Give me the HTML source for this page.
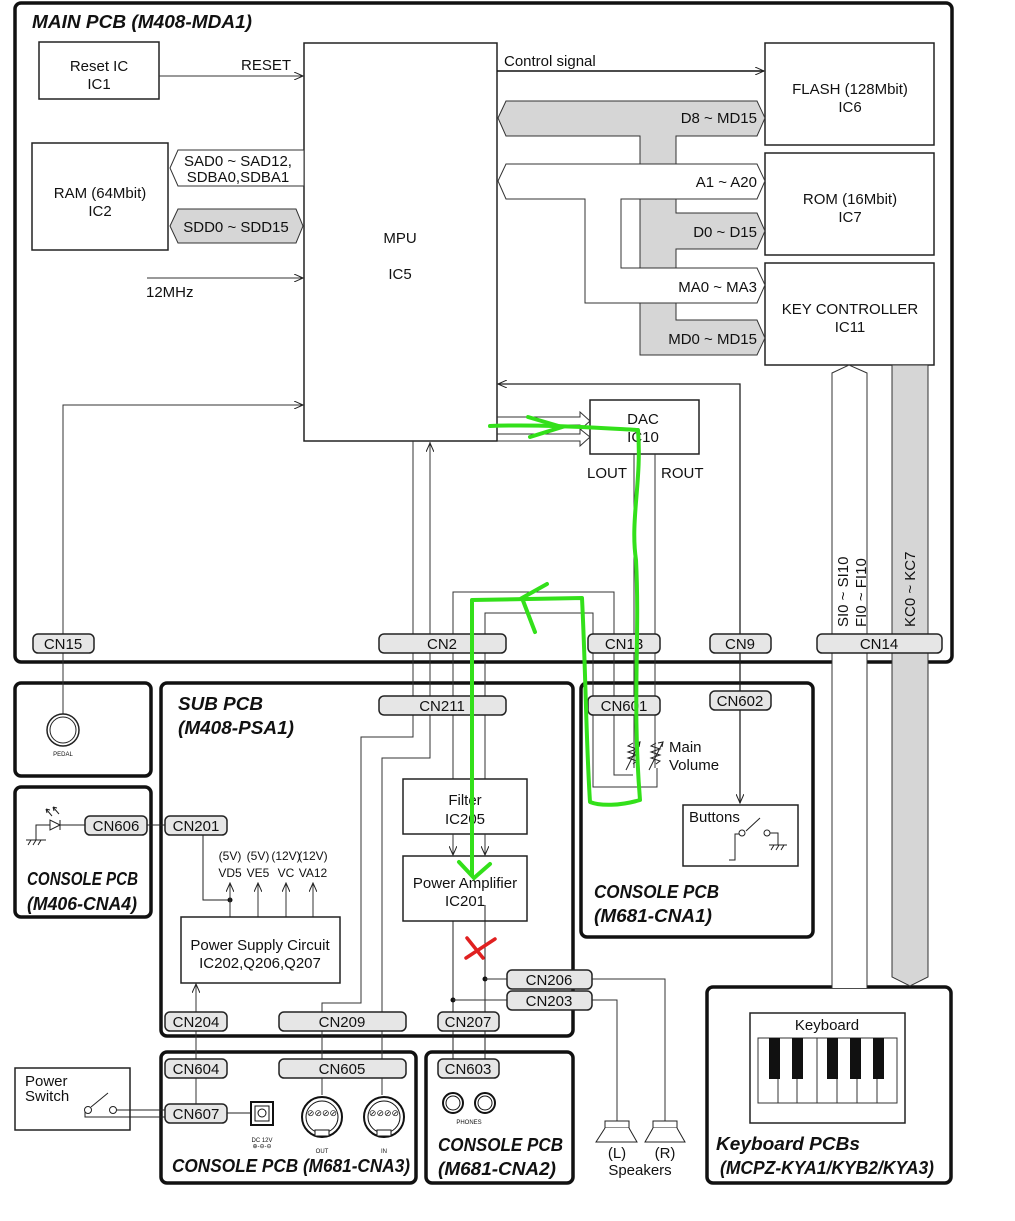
<!DOCTYPE html>
<html><head><meta charset="utf-8"><style>
body{margin:0;background:#fff}
svg{display:block}
text{font-family:"Liberation Sans",sans-serif;fill:#111}
.t{font-size:15px}
.b{font-size:18px;font-weight:bold;font-style:italic}
.c{text-anchor:middle}
.r{text-anchor:end}
.cn{fill:#e6e6e6;stroke:#222;stroke-width:1.5}
.box{fill:#fff;stroke:#222;stroke-width:1.5}
.pcb{fill:none;stroke:#111;stroke-width:3.5}
.ln{stroke:#333;stroke-width:1;fill:none}
.g{fill:#d6d6d6;stroke:#333;stroke-width:1}
.w{fill:#fff;stroke:#333;stroke-width:1}
</style></head><body>
<svg width="1015" height="1221" viewBox="0 0 1015 1221" xmlns="http://www.w3.org/2000/svg">
<defs>
<marker id="a" markerWidth="10" markerHeight="8" refX="9" refY="4" orient="auto" markerUnits="userSpaceOnUse"><path d="M0,0 L9,4 L0,8" fill="none" stroke="#222" stroke-width="1"/></marker>
</defs>

<!-- PCB outlines -->
<rect class="pcb" x="15" y="3" width="937" height="659" rx="6"/>
<text class="b" x="32" y="28" textLength="220" lengthAdjust="spacingAndGlyphs">MAIN PCB (M408-MDA1)</text>
<rect class="pcb" x="161" y="683" width="412" height="353" rx="6"/>
<text class="b" x="178" y="710" textLength="85" lengthAdjust="spacingAndGlyphs">SUB PCB</text>
<text class="b" x="178" y="734" textLength="116" lengthAdjust="spacingAndGlyphs">(M408-PSA1)</text>
<rect class="pcb" x="15" y="683" width="136" height="93" rx="6"/>
<rect class="pcb" x="15" y="787" width="136" height="130" rx="6"/>
<text class="b" x="27" y="885" textLength="111" lengthAdjust="spacingAndGlyphs">CONSOLE PCB</text>
<text class="b" x="27" y="910" textLength="110" lengthAdjust="spacingAndGlyphs">(M406-CNA4)</text>
<rect class="pcb" x="581" y="683" width="232" height="254" rx="6"/>
<text class="b" x="594" y="898" textLength="125" lengthAdjust="spacingAndGlyphs">CONSOLE PCB</text>
<text class="b" x="594" y="922" textLength="118" lengthAdjust="spacingAndGlyphs">(M681-CNA1)</text>
<rect class="pcb" x="161" y="1052" width="255" height="131" rx="6"/>
<text class="b" x="172" y="1172" textLength="238" lengthAdjust="spacingAndGlyphs">CONSOLE PCB (M681-CNA3)</text>
<rect class="pcb" x="426" y="1052" width="147" height="131" rx="6"/>
<text class="b" x="438" y="1151" textLength="125" lengthAdjust="spacingAndGlyphs">CONSOLE PCB</text>
<text class="b" x="438" y="1175" textLength="118" lengthAdjust="spacingAndGlyphs">(M681-CNA2)</text>
<rect class="pcb" x="707" y="987" width="244" height="196" rx="6"/>
<text class="b" x="716" y="1150" textLength="144" lengthAdjust="spacingAndGlyphs">Keyboard PCBs</text>
<text class="b" x="720" y="1174" textLength="214" lengthAdjust="spacingAndGlyphs">(MCPZ-KYA1/KYB2/KYA3)</text>

<!-- Main PCB contents -->
<rect class="box" x="39" y="42" width="120" height="57"/>
<text class="t c" x="99" y="71">Reset IC</text><text class="t c" x="99" y="89">IC1</text>
<line class="ln" x1="159" y1="76" x2="303" y2="76" marker-end="url(#a)"/>
<text class="t" x="241" y="70">RESET</text>

<rect class="box" x="304" y="43" width="193" height="398"/>
<text class="t c" x="400" y="243">MPU</text><text class="t c" x="400" y="279">IC5</text>

<rect class="box" x="32" y="143" width="136" height="107"/>
<text class="t c" x="100" y="198">RAM (64Mbit)</text><text class="t c" x="100" y="216">IC2</text>
<path class="w" d="M170,168 L178,150 L304,150 L304,186 L178,186 Z"/>
<text class="t c" x="238" y="166">SAD0 ~ SAD12,</text><text class="t c" x="238" y="182">SDBA0,SDBA1</text>
<path class="g" d="M170,226 L178,209 L296,209 L303,226 L296,243 L178,243 Z"/>
<text class="t c" x="236" y="232">SDD0 ~ SDD15</text>
<line class="ln" x1="147" y1="278" x2="303" y2="278" marker-end="url(#a)"/>
<text class="t" x="146" y="297">12MHz</text>

<path class="ln" d="M63,714 V405 H303" marker-end="url(#a)"/>

<line class="ln" x1="497" y1="71" x2="764" y2="71" marker-end="url(#a)" style="stroke:#111;stroke-width:1.5"/>
<text class="t" x="504" y="66">Control signal</text>

<rect class="box" x="765" y="43" width="169" height="102"/>
<text class="t c" x="850" y="94">FLASH (128Mbit)</text><text class="t c" x="850" y="112">IC6</text>
<rect class="box" x="765" y="153" width="169" height="102"/>
<text class="t c" x="850" y="204">ROM (16Mbit)</text><text class="t c" x="850" y="222">IC7</text>
<rect class="box" x="765" y="263" width="169" height="102"/>
<text class="t c" x="850" y="314">KEY CONTROLLER</text><text class="t c" x="850" y="332">IC11</text>

<!-- buses right -->
<path class="g" d="M498,118 L506,101 L757,101 L765,118 L757,136 L676,136 L676,164 L640,164 L640,136 L506,136 Z"/>
<path class="w" d="M498,181 L506,164 L757,164 L765,181 L757,199 L621,199 L621,268 L757,268 L765,285 L757,303 L585,303 L585,199 L506,199 Z"/>
<path class="g" d="M640,199 L676,199 L676,213 L757,213 L765,231 L757,249 L676,249 L676,268 L640,268 Z"/>
<path class="g" d="M640,303 L676,303 L676,320 L757,320 L765,338 L757,355 L640,355 Z"/>
<text class="t r" x="757" y="123">D8 ~ MD15</text>
<text class="t r" x="757" y="187">A1 ~ A20</text>
<text class="t r" x="757" y="237">D0 ~ D15</text>
<text class="t r" x="757" y="292">MA0 ~ MA3</text>
<text class="t r" x="757" y="344">MD0 ~ MD15</text>

<!-- CN9 line / arrow into MPU -->
<path class="ln" d="M740,634 V384 H498" marker-end="url(#a)" style="stroke:#222;stroke-width:1.3"/>
<path class="ln" d="M740,653 V691 M740,710 V803" marker-end="url(#a)" style="stroke:#222;stroke-width:1.3"/>

<!-- DAC -->
<rect class="box" x="590" y="400" width="109" height="54"/>
<text class="t c" x="643" y="424">DAC</text><text class="t c" x="643" y="442">IC10</text>
<path class="ln" d="M497,417 H580 V412 L590,421 L580,430 V425 H497"/>
<path class="ln" d="M497,434 H580 V429 L590,437 L580,446 V441 H497"/>
<text class="t" x="587" y="478">LOUT</text><text class="t" x="661" y="478">ROUT</text>
<path class="ln" d="M634,454 V768"/>
<path class="ln" d="M655,454 V768"/>
<path class="ln" d="M453,779 V592 H614 V775 H633"/>
<path class="ln" d="M485,779 V613 H593 V787 H657 V768"/>

<!-- MPU bottom lines -->
<path class="ln" d="M413,441 V737 H361 V1003 H322 V1095"/>
<path class="ln" d="M430,442 V758 H382 V1095"/>
<line class="ln" x1="430" y1="600" x2="430" y2="443" marker-end="url(#a)"/>

<!-- CN14 buses -->
<path class="w" d="M832,988 V373 L849,365 L867,373 V988"/>
<path class="g" d="M892,365 H928 V977 L910,986 L892,977 Z"/>
<text class="t" transform="translate(848,627) rotate(-90)">SI0 ~ SI10</text>
<text class="t" transform="translate(866,627) rotate(-90)">FI0 ~ FI10</text>
<text class="t" transform="translate(915,627) rotate(-90)">KC0 ~ KC7</text>

<!-- connectors -->
<rect class="cn" x="33" y="634" width="61" height="19" rx="5"/><text class="t c" x="63" y="649">CN15</text>
<rect class="cn" x="379" y="634" width="127" height="19" rx="5"/><text class="t c" x="442" y="649">CN2</text>
<rect class="cn" x="588" y="634" width="72" height="19" rx="5"/><text class="t c" x="624" y="649">CN13</text>
<rect class="cn" x="710" y="634" width="61" height="19" rx="5"/><text class="t c" x="740" y="649">CN9</text>
<rect class="cn" x="817" y="634" width="125" height="19" rx="5"/><text class="t c" x="879" y="649">CN14</text>
<rect class="cn" x="379" y="696" width="127" height="19" rx="5"/><text class="t c" x="442" y="711">CN211</text>
<rect class="cn" x="588" y="696" width="72" height="19" rx="5"/><text class="t c" x="624" y="711">CN601</text>
<rect class="cn" x="710" y="691" width="61" height="19" rx="5"/><text class="t c" x="740" y="706">CN602</text>

<!-- pots -->
<path class="ln" d="M633,743 l-5,3 l9,3 l-9,3 l9,3 l-9,3 l9,3 l-4,3 M626,770 l14,-28 l-5,1 M640,742 l-1,5" style="stroke:#222"/>
<path class="ln" d="M656,743 l-5,3 l9,3 l-9,3 l9,3 l-9,3 l9,3 l-4,3 M649,770 l14,-28 l-5,1 M663,742 l-1,5" style="stroke:#222"/>
<text class="t" x="669" y="752">Main</text><text class="t" x="669" y="770">Volume</text>

<!-- Buttons -->
<rect class="box" x="683" y="805" width="115" height="61"/>
<text class="t" x="689" y="822">Buttons</text>
<path class="ln" d="M729,860 H735 V834 H739 M746,831 L760,818 M765,833 H778 V845 M769,845 H787 M771,850 l3,-5 M776,850 l3,-5 M781,850 l3,-5" style="stroke:#222"/>
<circle cx="742" cy="833" r="3" fill="#fff" stroke="#222"/><circle cx="767" cy="833" r="3" fill="#fff" stroke="#222"/>

<!-- Pedal -->
<circle cx="63" cy="730" r="16" fill="#fff" stroke="#222" stroke-width="1.5"/>
<circle cx="63" cy="730" r="13" fill="none" stroke="#222"/>
<text x="63" y="756" font-size="6" class="c">PEDAL</text>

<!-- LED / CNA4 -->
<rect class="cn" x="85" y="816" width="62" height="19" rx="5"/><text class="t c" x="116" y="831">CN606</text>
<rect class="cn" x="165" y="816" width="62" height="19" rx="5"/><text class="t c" x="196" y="831">CN201</text>
<path class="ln" d="M85,825 H60 M60,820 V830 M60,825 L50,820 V830 Z M50,825 H36 V840 M26,840 H46 M28,845 l3,-5 M33,845 l3,-5 M38,845 l3,-5 M147,825 H165" style="stroke:#222"/>
<path class="ln" d="M52,816 l-6,-7 m0,0 l1,4 m-1,-4 l4,1 M59,814 l-6,-7 m0,0 l1,4 m-1,-4 l4,1" style="stroke:#222"/>

<!-- Sub PCB contents -->
<path class="ln" d="M203,835 V900 H230" style="stroke:#222"/>
<circle cx="230" cy="900" r="2.5" fill="#111"/>
<g font-size="12" style="font-family:'Liberation Sans Narrow','Liberation Sans',sans-serif">
<text x="230" y="860" class="c">(5V)</text><text x="258" y="860" class="c">(5V)</text><text x="286" y="860" class="c">(12V)</text><text x="313" y="860" class="c">(12V)</text>
<text x="230" y="877" class="c">VD5</text><text x="258" y="877" class="c">VE5</text><text x="286" y="877" class="c">VC</text><text x="313" y="877" class="c">VA12</text>
</g>
<line class="ln" x1="230" y1="917" x2="230" y2="883" marker-end="url(#a)"/>
<line class="ln" x1="258" y1="917" x2="258" y2="883" marker-end="url(#a)"/>
<line class="ln" x1="286" y1="917" x2="286" y2="883" marker-end="url(#a)"/>
<line class="ln" x1="313" y1="917" x2="313" y2="883" marker-end="url(#a)"/>
<rect class="box" x="181" y="917" width="159" height="66"/>
<text class="t c" x="260" y="950">Power Supply Circuit</text><text class="t c" x="260" y="968">IC202,Q206,Q207</text>
<line class="ln" x1="196" y1="1012" x2="196" y2="984" marker-end="url(#a)"/>
<path class="ln" d="M196,1031 V1059 M196,1078 V1104"/>

<rect class="box" x="403" y="779" width="124" height="55"/>
<text class="t c" x="465" y="805">Filter</text><text class="t c" x="465" y="824">IC205</text>
<line class="ln" x1="453" y1="834" x2="453" y2="855" marker-end="url(#a)"/>
<line class="ln" x1="485" y1="834" x2="485" y2="855" marker-end="url(#a)"/>
<rect class="box" x="403" y="856" width="124" height="65"/>
<text class="t c" x="465" y="888">Power Amplifier</text><text class="t c" x="465" y="906">IC201</text>
<path class="ln" d="M453,921 V1012 M485,905 V1012 M453,1031 V1059 M485,1031 V1059" style="stroke:#222"/>
<circle cx="485" cy="979" r="2.5" fill="#111"/><circle cx="453" cy="1000" r="2.5" fill="#111"/>
<path class="ln" d="M485,979 H507 M592,979 H665 V1121 M453,1000 H507 M592,1000 H617 V1121"/>
<rect class="cn" x="507" y="970" width="85" height="19" rx="5"/><text class="t c" x="549" y="985">CN206</text>
<rect class="cn" x="507" y="991" width="85" height="19" rx="5"/><text class="t c" x="549" y="1006">CN203</text>

<rect class="cn" x="165" y="1012" width="62" height="19" rx="5"/><text class="t c" x="196" y="1027">CN204</text>
<rect class="cn" x="279" y="1012" width="127" height="19" rx="5"/><text class="t c" x="342" y="1027">CN209</text>
<rect class="cn" x="438" y="1012" width="61" height="19" rx="5"/><text class="t c" x="468" y="1027">CN207</text>

<!-- CNA3 -->
<rect class="cn" x="165" y="1059" width="62" height="19" rx="5"/><text class="t c" x="196" y="1074">CN604</text>
<rect class="cn" x="279" y="1059" width="127" height="19" rx="5"/><text class="t c" x="342" y="1074">CN605</text>
<rect class="cn" x="165" y="1104" width="62" height="19" rx="5"/><text class="t c" x="196" y="1119">CN607</text>
<path class="ln" d="M227,1113 H251" style="stroke:#222"/>
<rect x="251" y="1102" width="22" height="23" fill="#fff" stroke="#111" stroke-width="2"/>
<rect x="255" y="1106" width="14" height="15" fill="none" stroke="#111"/>
<circle cx="262" cy="1113" r="4" fill="#fff" stroke="#111"/>
<text x="262" y="1142" font-size="6" class="c">DC 12V</text>
<text x="262" y="1148" font-size="6" class="c">⊕-⊖-⊖</text>
<circle cx="322" cy="1117" r="20" fill="#fff" stroke="#111" stroke-width="2"/>
<circle cx="322" cy="1117" r="16" fill="none" stroke="#111"/>
<text x="322" y="1116" font-size="9" class="c">⊘⊘⊘⊘</text>
<rect x="315" y="1130" width="14" height="6" fill="#fff" stroke="#111"/>
<text x="322" y="1153" font-size="6" class="c">OUT</text>
<circle cx="384" cy="1117" r="20" fill="#fff" stroke="#111" stroke-width="2"/>
<circle cx="384" cy="1117" r="16" fill="none" stroke="#111"/>
<text x="384" y="1116" font-size="9" class="c">⊘⊘⊘⊘</text>
<rect x="377" y="1130" width="14" height="6" fill="#fff" stroke="#111"/>
<text x="384" y="1153" font-size="6" class="c">IN</text>

<!-- Power switch -->
<rect class="box" x="15" y="1068" width="115" height="62"/>
<text class="t" x="25" y="1086">Power</text><text class="t" x="25" y="1101">Switch</text>
<path class="ln" d="M91,1107 L108,1093 M85,1110 V1117 H165 M113,1110 H165" style="stroke:#222"/>
<circle cx="88" cy="1110" r="3.5" fill="#fff" stroke="#222"/><circle cx="113" cy="1110" r="3.5" fill="#fff" stroke="#222"/>

<!-- CNA2 -->
<rect class="cn" x="438" y="1059" width="61" height="19" rx="5"/><text class="t c" x="468" y="1074">CN603</text>
<circle cx="453" cy="1103" r="10" fill="#fff" stroke="#111" stroke-width="2"/><circle cx="453" cy="1103" r="7" fill="none" stroke="#111"/>
<circle cx="485" cy="1103" r="10" fill="#fff" stroke="#111" stroke-width="2"/><circle cx="485" cy="1103" r="7" fill="none" stroke="#111"/>
<text x="469" y="1124" font-size="6" class="c">PHONES</text>

<!-- Speakers -->
<rect x="605" y="1121" width="24" height="7" fill="#fff" stroke="#222"/>
<path d="M605,1128 L596,1142 H637 L629,1128" fill="#fff" stroke="#222"/>
<rect x="653" y="1121" width="24" height="7" fill="#fff" stroke="#222"/>
<path d="M653,1128 L645,1142 H685 L677,1128" fill="#fff" stroke="#222"/>
<text class="t c" x="617" y="1158">(L)</text><text class="t c" x="665" y="1158">(R)</text>
<text class="t c" x="640" y="1175">Speakers</text>

<!-- Keyboard -->
<rect class="box" x="750" y="1013" width="155" height="110"/>
<text class="t c" x="827" y="1030">Keyboard</text>
<rect x="758" y="1038" width="139" height="65" fill="#fff" stroke="#333"/>
<g stroke="#333" stroke-width="1">
<line x1="778" y1="1038" x2="778" y2="1103"/><line x1="797" y1="1038" x2="797" y2="1103"/><line x1="817" y1="1038" x2="817" y2="1103"/><line x1="837" y1="1038" x2="837" y2="1103"/><line x1="857" y1="1038" x2="857" y2="1103"/><line x1="877" y1="1038" x2="877" y2="1103"/>
</g>
<g fill="#111"><rect x="769" y="1038" width="11" height="41"/><rect x="792" y="1038" width="11" height="41"/><rect x="827" y="1038" width="11" height="41"/><rect x="850" y="1038" width="11" height="41"/><rect x="873" y="1038" width="11" height="41"/></g>

<!-- green annotation -->
<path d="M490,426 C540,424 600,428 638,430 C642,480 630,520 636,560 C640,640 632,700 640,800 C620,806 600,806 590,802 C586,740 586,680 582,598 L472,600 L472,875" fill="none" stroke="#33e01a" stroke-width="4" stroke-linejoin="round" stroke-linecap="round"/>
<path d="M528,417 L562,427 L530,437" fill="none" stroke="#33e01a" stroke-width="4" stroke-linecap="round"/>
<path d="M547,584 L522,598 L535,632" fill="none" stroke="#33e01a" stroke-width="4" stroke-linecap="round"/>
<path d="M459,862 L474,878 L490,864" fill="none" stroke="#33e01a" stroke-width="4" stroke-linecap="round"/>
<!-- red X -->
<path d="M467,938 L483,958 M466,958 L495,939" stroke="#e02020" stroke-width="3.5" stroke-linecap="round"/>
</svg>
</body></html>
